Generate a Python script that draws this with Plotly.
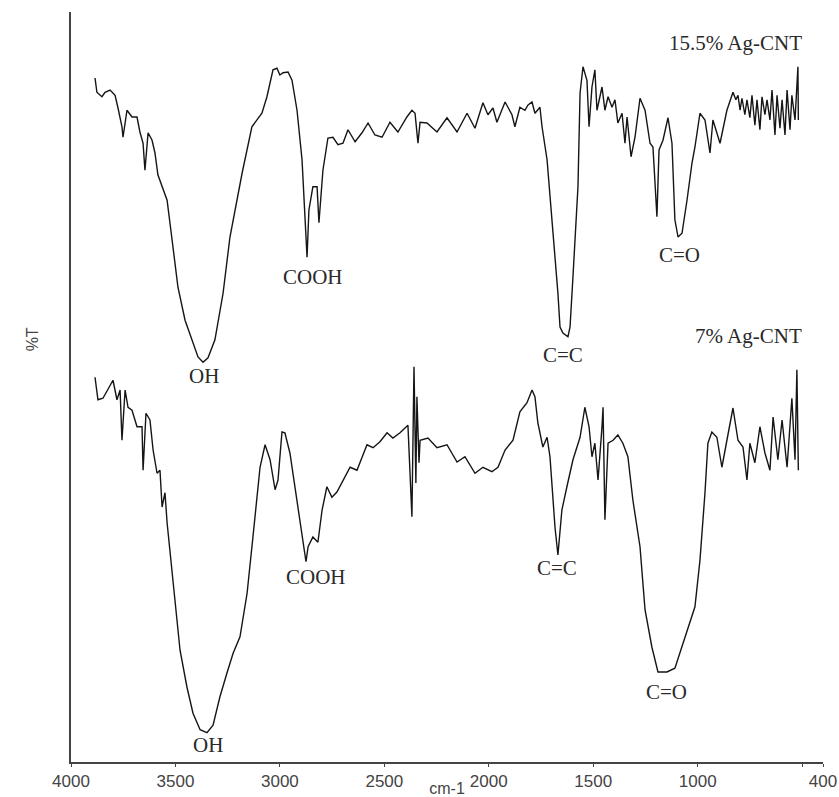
import plotly.graph_objects as go

# ---- Data (wavenumber in cm-1, transmittance in arbitrary %T units) ----
wn_top = [3885, 3876, 3852, 3837, 3813, 3789, 3775, 3756, 3751, 3732, 3708, 3684, 3670, 3655, 3646, 3631,
          3612, 3598, 3584, 3560, 3540, 3512, 3488, 3454, 3421, 3392, 3368, 3344, 3311, 3272, 3239, 3215,
          3181, 3134, 3086, 3062, 3033, 3014, 3000, 2985, 2961, 2942, 2918, 2894, 2880, 2870, 2861, 2842,
          2822, 2813, 2794, 2770, 2746, 2722, 2698, 2674, 2640, 2607, 2578, 2545, 2511, 2473, 2435, 2392,
          2368, 2353, 2339, 2329, 2296, 2248, 2200, 2152, 2104, 2066, 2028, 2004, 1980, 1961, 1922, 1889,
          1875, 1851, 1827, 1812, 1793, 1779, 1755, 1745, 1721, 1693, 1669, 1659, 1645, 1621, 1611, 1597,
          1573, 1563, 1549, 1530, 1520, 1506, 1492, 1482, 1458, 1444, 1429, 1410, 1396, 1382, 1362, 1348,
          1338, 1319, 1300, 1276, 1252, 1228, 1214, 1195, 1185, 1166, 1142, 1123, 1109, 1094, 1075, 1051,
          1027, 1013, 989, 965, 941, 927, 893, 860, 831, 817, 807, 797, 788, 774, 764, 750, 740, 726, 716,
          702, 692, 678, 668, 654, 644, 630, 620, 606, 596, 582, 572, 558, 549, 534, 525, 520, 518]
t_top = [91.2, 89.3, 88.7, 89.3, 89.6, 88.9, 87.2, 84.7, 83.3, 86.9, 86.0, 86.0, 84.0, 82.5, 78.9, 83.9,
         82.9, 81.2, 78.3, 76.3, 74.9, 68.7, 63.3, 58.9, 56.3, 54.0, 53.3, 53.9, 56.3, 62.5, 70.0, 73.6,
         78.5, 84.7, 86.5, 88.7, 92.3, 92.5, 91.6, 91.9, 92.0, 90.9, 86.9, 80.3, 73.2, 67.3, 73.6, 76.7,
         76.7, 71.9, 78.9, 83.2, 83.3, 82.3, 82.5, 84.3, 82.7, 83.9, 85.2, 83.6, 83.3, 85.3, 84.0, 86.0,
         86.9, 86.5, 82.5, 85.3, 85.2, 84.0, 85.9, 84.0, 86.5, 84.5, 87.9, 86.3, 87.2, 85.3, 88.0, 86.3,
         84.7, 87.3, 86.9, 87.6, 88.0, 86.5, 87.3, 84.7, 80.3, 71.3, 62.5, 58.0, 57.2, 56.7, 58.0, 64.7,
         76.7, 89.2, 92.7, 90.9, 84.7, 90.0, 92.3, 86.9, 90.0, 86.9, 88.7, 87.3, 88.3, 85.2, 86.5, 82.5,
         86.0, 80.7, 83.3, 88.5, 86.9, 82.5, 82.0, 72.7, 81.6, 82.9, 85.9, 82.5, 72.3, 70.0, 70.5, 74.9,
         79.9, 82.0, 86.5, 85.6, 81.2, 85.6, 82.5, 86.9, 89.3, 88.3, 88.9, 86.9, 88.5, 86.3, 88.3, 85.9,
         88.9, 84.9, 88.3, 84.3, 88.7, 86.3, 88.3, 85.6, 89.6, 83.6, 88.9, 84.5, 88.3, 83.6, 89.6, 84.3,
         88.9, 85.6, 91.6, 92.7, 85.6]

wn_bot = [3885, 3871, 3847, 3813, 3799, 3780, 3765, 3756, 3741, 3727, 3708, 3684, 3660, 3655, 3641, 3622,
          3607, 3588, 3574, 3564, 3550, 3540, 3526, 3502, 3478, 3445, 3416, 3382, 3349, 3320, 3287, 3253,
          3224, 3191, 3157, 3129, 3095, 3071, 3047, 3023, 3009, 2990, 2976, 2952, 2918, 2894, 2875, 2865,
          2842, 2818, 2798, 2775, 2751, 2727, 2698, 2664, 2631, 2617, 2583, 2554, 2521, 2487, 2459, 2425,
          2387, 2368, 2358, 2349, 2344, 2334, 2329, 2291, 2248, 2200, 2152, 2114, 2066, 2028, 1985, 1956,
          1922, 1884, 1851, 1817, 1793, 1779, 1765, 1741, 1721, 1707, 1683, 1669, 1650, 1626, 1597, 1563,
          1540, 1520, 1506, 1492, 1477, 1458, 1453, 1444, 1429, 1405, 1382, 1358, 1334, 1310, 1276, 1252,
          1219, 1190, 1147, 1109, 1075, 1046, 1013, 989, 965, 951, 932, 908, 884, 860, 831, 807, 783, 764,
          750, 726, 702, 678, 654, 639, 616, 596, 572, 549, 534, 525, 518]
t_bot = [51.3, 48.3, 48.5, 50.3, 50.9, 48.3, 49.6, 42.9, 49.6, 47.3, 46.9, 44.7, 44.7, 38.9, 46.5, 45.6,
         41.6, 38.5, 38.9, 34.0, 35.9, 31.9, 27.9, 21.6, 14.9, 10.0, 6.5, 4.3, 3.9, 4.9, 8.7, 11.9,
         14.5, 16.7, 22.5, 30.0, 39.3, 42.3, 40.3, 36.3, 37.6, 44.0, 43.9, 41.2, 34.9, 30.5, 26.7, 28.7,
         30.0, 29.3, 33.6, 36.7, 35.3, 36.0, 37.6, 39.3, 38.9, 39.9, 42.3, 41.9, 42.7, 43.9, 43.2, 43.9,
         44.9, 32.7, 52.7, 37.2, 48.7, 39.9, 42.9, 43.2, 41.9, 42.3, 40.0, 40.7, 38.5, 39.3, 38.7, 39.3,
         41.6, 42.9, 46.7, 47.9, 49.6, 48.7, 45.2, 42.0, 43.3, 40.7, 31.3, 27.6, 33.6, 36.7, 40.3, 43.3,
         47.3, 44.7, 40.7, 42.5, 37.6, 44.7, 47.3, 32.3, 42.5, 42.9, 43.6, 42.5, 40.7, 34.9, 28.7, 20.3,
         15.3, 12.0, 12.0, 12.5, 15.3, 18.0, 20.7, 26.9, 35.9, 42.5, 44.0, 43.3, 39.3, 42.9, 47.2, 42.9,
         42.0, 37.6, 42.5, 39.9, 44.7, 41.2, 38.9, 46.0, 40.3, 45.6, 39.3, 48.5, 40.3, 52.3, 38.9]

series_names = ["15.5% Ag-CNT", "7% Ag-CNT"]

# peak labels: text, wavenumber, %T
label_text = ["15.5% Ag-CNT", "COOH", "OH", "C=C", "C=O",
              "7% Ag-CNT", "COOH", "C=C", "C=O", "OH"]
label_wn = [821, 2842, 3363, 1645, 1085, 759, 2827, 1673, 1147, 3344]
label_t = [95.9, 64.7, 51.5, 54.3, 67.6, 56.8, 24.7, 25.9, 9.3, 2.3]

tick_vals = [4000, 3500, 3000, 2500, 2000, 1500, 1000, 500, 400]
tick_text = ["4000", "3500", "3000", "2500", "2000", "1500", "1000", "", "400"]

SANS = "Liberation Sans, Arial, sans-serif"
SERIF = "Liberation Serif, Times New Roman, serif"

fig = go.Figure()
for xs, ys, name in [(wn_top, t_top, series_names[0]), (wn_bot, t_bot, series_names[1])]:
    fig.add_trace(go.Scatter(x=xs, y=ys, mode="lines", name=name,
                             line=dict(color="#151515", width=1.4), showlegend=False))

for txt, xv, yv in zip(label_text, label_wn, label_t):
    fig.add_annotation(x=xv, y=yv, text=txt, showarrow=False,
                       font=dict(family=SERIF, size=21, color="#2a2a2a"))

# y-axis title (placed as in the reference, above the vertical centre)
fig.add_annotation(xref="paper", yref="paper", x=-0.065, y=0.563, text="%T",
                   textangle=-90, showarrow=False,
                   font=dict(family=SANS, size=16, color="#444444"))

fig.update_layout(
    width=839, height=797,
    margin=dict(l=71, r=16, t=12, b=35),
    paper_bgcolor="white", plot_bgcolor="white",
    showlegend=False,
)
fig.update_xaxes(
    range=[4000, 400], tickvals=tick_vals, ticktext=tick_text,
    showline=True, linecolor="#444444", linewidth=1.5,
    ticks="outside", ticklen=3, tickcolor="#444444",
    showgrid=False, zeroline=False,
    tickfont=dict(family=SANS, size=17, color="#444444"),
    title=dict(text="cm-1", standoff=0, font=dict(family=SANS, size=16, color="#444444")),
    automargin=False,
)
fig.update_yaxes(
    range=[0, 100], showticklabels=False, ticks="",
    showline=True, linecolor="#444444", linewidth=1.5,
    showgrid=False, zeroline=False,
    automargin=False,
)

fig.write_html("out.html",
               config={"displayModeBar": False},
               post_script="document.body.style.margin='0';document.body.style.overflow='hidden';")
